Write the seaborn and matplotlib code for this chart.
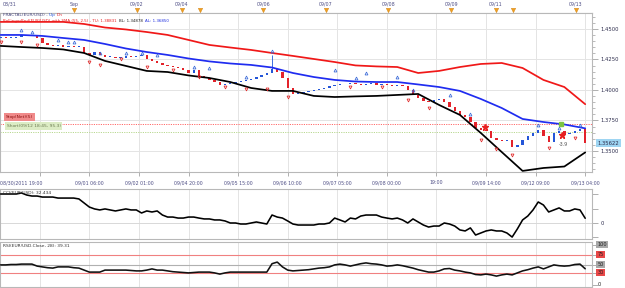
import numpy as np
import matplotlib
matplotlib.use("Agg")
import matplotlib.pyplot as plt
import seaborn as sns
from matplotlib.ticker import MultipleLocator, FixedLocator, NullFormatter

sns.set_style("white")
plt.rcParams["font.family"] = ["DejaVu Sans"]

# ---------------- data ----------------
open0 = 1.4426
closes = [1.4434, 1.4426, 1.4426, 1.4434, 1.4451, 1.4443, 1.4451, 1.4426, 1.4385, 1.4369,
          1.4361, 1.4365, 1.4352, 1.4361, 1.4352, 1.4356, 1.4302, 1.4287, 1.4311, 1.4287,
          1.4270, 1.4274, 1.4262, 1.4266, 1.4279, 1.4270, 1.4279, 1.4287, 1.4254, 1.4238,
          1.4221, 1.4205, 1.4197, 1.4188, 1.4180, 1.4164, 1.4140, 1.4160, 1.4115, 1.4098,
          1.4082, 1.4065, 1.4041, 1.4049, 1.4057, 1.4065, 1.4074, 1.4082, 1.4090, 1.4106,
          1.4123, 1.4139, 1.4172, 1.4147, 1.4098, 1.4016, 1.3967, 1.3975, 1.3984, 1.3992,
          1.4000, 1.4008, 1.4016, 1.4033, 1.4041, 1.4045, 1.4049, 1.4057, 1.4049, 1.4041,
          1.4049, 1.4053, 1.4041, 1.4049, 1.4041, 1.4033, 1.4041, 1.4033, 1.4000, 1.3959,
          1.3934, 1.3910, 1.3905, 1.3918, 1.3926, 1.3901, 1.3860, 1.3828, 1.3795, 1.3778,
          1.3737, 1.3688, 1.3672, 1.3664, 1.3606, 1.3590, 1.3582, 1.3586, 1.3533, 1.3549,
          1.3590, 1.3623, 1.3647, 1.3672, 1.3623, 1.3574, 1.3647, 1.3664, 1.3639, 1.3647,
          1.3664, 1.3680, 1.35622]
wick_idx = [52]
wick_high = [1.4287]
wick_low = [1.4147]

band_step = 4
upper_band = [1.4558, 1.4558, 1.4558, 1.4558, 1.4541, 1.4512, 1.4496, 1.4475, 1.4451, 1.4410,
              1.4369, 1.4348, 1.4328, 1.4303, 1.4279, 1.4254, 1.4229, 1.4201, 1.4193, 1.4188,
              1.4139, 1.4156, 1.4188, 1.4213, 1.4221, 1.4180, 1.4082, 1.4024, 1.38831]
middle_band = [1.4451, 1.4451, 1.4443, 1.4426, 1.4410, 1.4377, 1.4340, 1.4311, 1.4287, 1.4258,
               1.4234, 1.4217, 1.4205, 1.4184, 1.4139, 1.4106, 1.4082, 1.4069, 1.4065, 1.4065,
               1.4045, 1.4024, 1.3992, 1.3926, 1.3852, 1.3762, 1.3737, 1.3717, 1.36850]
lower_band = [1.4361, 1.4352, 1.4344, 1.4332, 1.4303, 1.4238, 1.4197, 1.4156, 1.4147, 1.4119,
              1.4098, 1.4065, 1.4016, 1.3992, 1.3992, 1.3951, 1.3942, 1.3947, 1.3951, 1.3959,
              1.3967, 1.3877, 1.3795, 1.3647, 1.3491, 1.3336, 1.3360, 1.3372, 1.34878]

cci = [200, 200, 200, 200, 207, 193, 186, 186, 179, 179,
       179, 172, 172, 172, 172, 166, 138, 110, 97, 90,
       97, 90, 83, 90, 97, 90, 90, 69, 83, 76,
       83, 55, 41, 41, 34, 34, 41, 41, 34, 28,
       28, 21, 21, 14, 0, 0, -7, -7, 0, 7,
       0, -7, 55, 41, 34, 14, -7, -14, -14, -14,
       -14, -7, -7, 0, 34, 21, 7, 34, 28, 48,
       55, 55, 55, 41, 34, 28, 34, 21, 0, 28,
       7, -14, -28, -21, -21, 0, -7, -21, -48, -55,
       -34, -83, -69, -55, -48, -55, -55, -69, -97, -41,
       21, 48, 90, 145, 124, 76, 90, 104, 83, 83,
       97, 90, 32.434]
rsi = [49, 49, 50, 50, 51, 51, 51, 46, 44, 42,
       41, 44, 44, 44, 42, 41, 36, 31, 31, 31,
       36, 36, 36, 36, 36, 35, 34, 34, 36, 39,
       36, 36, 34, 32, 31, 30, 29, 30, 31, 31,
       31, 29, 26, 29, 31, 31, 31, 31, 31, 31,
       31, 31, 52, 56, 44, 36, 34, 35, 36, 37,
       39, 41, 42, 44, 49, 51, 49, 46, 49, 52,
       54, 52, 51, 49, 46, 47, 49, 47, 44, 41,
       37, 34, 31, 31, 34, 39, 40, 36, 34, 31,
       29, 25, 24, 26, 24, 21, 24, 26, 24, 29,
       34, 37, 41, 44, 39, 44, 49, 47, 46, 47,
       50, 51, 39.31]

frac_up_idx = [4, 6, 11, 13, 14, 19, 24, 27, 30, 37, 40, 47, 52, 64, 68, 70, 76, 79, 86, 90, 103, 107, 111]
frac_up_val = [1.4492, 1.4475, 1.4410, 1.4393, 1.4393, 1.4303, 1.4303, 1.4303, 1.4287, 1.4188,
               1.4180, 1.4106, 1.4320, 1.4164, 1.4098, 1.4139, 1.4106, 1.4000, 1.3959, 1.3803,
               1.3713, 1.3688, 1.3713]
frac_dn_idx = [0, 4, 7, 17, 19, 23, 28, 33, 38, 43, 47, 51, 55, 67, 73, 78, 82, 92, 95, 98, 105, 110]
frac_dn_val = [1.4393, 1.4393, 1.4369, 1.4229, 1.4205, 1.4254, 1.4188, 1.4164, 1.4106, 1.4024,
               1.4008, 1.4008, 1.3943, 1.4024, 1.4024, 1.3918, 1.3852, 1.3590, 1.3516, 1.3467,
               1.3524, 1.3606]
sell_idx = [92.8, 107.5]
sell_val = [1.3697, 1.3631]
entry_idx = [107.4]
entry_val = [1.3721]
score_idx = 107.8
score_val = 1.3553
score_text = "-3.9"

stop_level = 1.3721
short_level = 1.3655
last_price = 1.35622

first_date_label = "08/30/2011 19:00"
date_labels = ["09/01 06:00", "09/02 01:00", "09/04 20:00", "09/05 15:00", "09/06 10:00",
               "09/07 05:00", "09/08 00:00", "19:00", "09/09 14:00", "09/12 09:00", "09/13 04:00"]
date_idx = [17, 26.5, 36, 45.5, 55, 64.5, 74, 83.5, 93, 102.5, 112]
grid_idx = [7.5] + date_idx
day_labels = ["08/31", "Sep", "09/02", "09/04", "09/06", "09/07", "09/08", "09/09", "09/11", "09/13"]
day_idx = [1.8, 14.1, 26.1, 34.7, 50.3, 62.3, 74.3, 86.3, 94.9, 110.2]
event_idx = [14.0, 26.1, 34.8, 38.2, 50.3, 62.3, 74.2, 86.3, 94.9, 98.2, 110.2]

price_ticks = [1.45, 1.425, 1.40, 1.375, 1.35]
cci_ticks = [-100, 0, 100, 200]
rsi_levels = [100, 75, 50, 30, 0]

# ---------------- layout ----------------
W, H = 625, 288
fig = plt.figure(figsize=(W / 100, H / 100), dpi=100)
fig.patch.set_facecolor("white")


def px_axes(x0, y0, x1, y1):
    return fig.add_axes([x0 / W, 1 - y1 / H, (x1 - x0) / W, (y1 - y0) / H])


ax_top = px_axes(0, 0, 592, 13)
ax_p = px_axes(0, 13, 592, 172)
ax_c = px_axes(0, 188.5, 592, 238.5)
ax_r = px_axes(0, 241.5, 592, 287)

XL = (-0.115, 113.3)
LAB = "#4f4f86"
TXT = "#2e2e4e"
GRID = "#e4e4e4"
FRAME = "#b8b8b8"
FS = 3.4

for ax in (ax_top, ax_p, ax_c, ax_r):
    ax.set_xlim(*XL)
    for s in ax.spines.values():
        s.set_color(FRAME)
        s.set_linewidth(0.8)
    ax.set_facecolor("white")

# ---------------- top date strip ----------------
ax_top.set_ylim(13, 0)
ax_top.set_yticks([])
ax_top.spines["left"].set_visible(False)
ax_top.spines["top"].set_visible(False)
ax_top.spines["right"].set_visible(False)
ax_top.xaxis.set_minor_locator(MultipleLocator(1.5))
ax_top.xaxis.set_major_locator(FixedLocator(day_idx))
ax_top.xaxis.set_major_formatter(NullFormatter())
ax_top.tick_params(axis="x", which="major", direction="in", length=3.5, color="#909090", width=0.5)
ax_top.tick_params(axis="x", which="minor", direction="in", length=1.8, color="#a0a0a0", width=0.5)
for lab, xi in zip(day_labels, day_idx):
    ax_top.text(xi, 4.5, lab, ha="center", va="center", fontsize=FS, color=LAB)
ax_top.plot(event_idx, [10] * len(event_idx), ls="none", marker="v", ms=3.2,
            color="#f0a020", mec="#d08010", mew=0.3, clip_on=False)

# ---------------- price panel ----------------
ax_p.set_ylim(1.3327, 1.4631)
for g in grid_idx:
    ax_p.axvline(g, color=GRID, lw=0.7, zorder=0)
for t in price_ticks:
    ax_p.axhline(t, color=GRID, lw=0.7, zorder=0)

idx = np.arange(len(closes))
opens = [open0] + closes[:-1]
lo = np.minimum(opens, closes)
hi = np.maximum(opens, closes)
body = np.maximum(hi - lo, 0.0006)
cols = ["#2456d8" if c >= o else "#e3232b" for o, c in zip(opens, closes)]
ax_p.vlines(wick_idx, wick_low, wick_high, color="#3b6fe0", lw=0.7, zorder=2)
ax_p.bar(idx, body, bottom=lo, width=0.45, color=cols, linewidth=0, zorder=3)

band_x = np.arange(0, len(closes), band_step)
sns.lineplot(x=band_x, y=upper_band, ax=ax_p, color="#f01818", lw=1.25, zorder=4)
sns.lineplot(x=band_x, y=middle_band, ax=ax_p, color="#1f2cf0", lw=1.25, zorder=4)
sns.lineplot(x=band_x, y=lower_band, ax=ax_p, color="#000000", lw=1.25, zorder=4)

ax_p.plot(frac_up_idx, frac_up_val, ls="none", marker="^", ms=2.1, mfc="none",
          mec="#3a6ad8", mew=0.55, zorder=5)
ax_p.plot(frac_dn_idx, frac_dn_val, ls="none", marker="v", ms=2.1, mfc="none",
          mec="#e02828", mew=0.55, zorder=5)

ax_p.axhline(stop_level, color="#ff6a6a", lw=0.7, ls=(0, (1.2, 1.2)), zorder=2)
ax_p.axhline(short_level, color="#b8d890", lw=0.7, ls=(0, (1.2, 1.2)), zorder=2)

ax_p.plot(sell_idx, sell_val, ls="none", marker="*", ms=4.5, color="#e82020", zorder=6)
ax_p.plot(entry_idx, entry_val, ls="none", marker="s", ms=3.2, color="#7cc444", zorder=6)
ax_p.text(score_idx, score_val, score_text, fontsize=FS, color="#505050", ha="center", va="center", zorder=6)

ax_p.text(1.0, 1.3778, "Stop(Net)(5)", fontsize=3.2, color="#8a1010", va="center", ha="left",
          bbox=dict(boxstyle="square,pad=0.35", fc="#f08a8a", ec="none"), zorder=7)
ax_p.text(1.2, 1.3704, "Short(09/12 18:45, 95.3)", fontsize=3.2, color="#6a7a50", va="center", ha="left",
          bbox=dict(boxstyle="square,pad=0.35", fc="#dcecc4", ec="none"), zorder=7)


def seg_text(ax, x, y, parts, size):
    t = ax.text(x, y, parts[0][0], color=parts[0][1], fontsize=size,
                transform=ax.transAxes, va="center", ha="left", zorder=8)
    for s, c in parts[1:]:
        t = ax.annotate(s, xycoords=t, xy=(1, 0.5), va="center", ha="left",
                        color=c, fontsize=size, zorder=8)
    return t


seg_text(ax_p, 0.005, 0.985, [("FRACTAL(EUR/USD) - ", "#4a4a80"), ("Up ", "#2456d8"), ("Dn", "#e3232b")], 3.2)
seg_text(ax_p, 0.005, 0.948, [("BollingerBnd(EUR/USD) with SMA (55, 2.5) - TU: 1.38831  ", "#e82020"),
                              ("BL: 1.34878  ", "#202020"), ("AL: 1.36850", "#2030e0")], 2.9)

ax_p.yaxis.tick_right()
ax_p.yaxis.set_major_locator(FixedLocator(price_ticks))
ax_p.yaxis.set_minor_locator(MultipleLocator(0.005))
ax_p.set_yticklabels([f"{t:.4f}" for t in price_ticks])
ax_p.tick_params(axis="y", which="major", length=4, width=0.5, color="#909090", pad=2,
                 labelsize=3.8, labelcolor=TXT, right=True)
ax_p.tick_params(axis="y", which="minor", length=2, width=0.5, color="#a0a0a0", right=True)
ax_p.text(1.0095, last_price, f"{last_price:.5f}", transform=ax_p.get_yaxis_transform(),
          fontsize=3.8, color=TXT, va="center", ha="left",
          bbox=dict(boxstyle="square,pad=0.3", fc="#9ed5f2", ec="none"), zorder=9, clip_on=False)

ax_p.xaxis.set_major_locator(FixedLocator(grid_idx))
ax_p.xaxis.set_major_formatter(NullFormatter())
ax_p.tick_params(axis="x", which="major", length=3, width=0.5, color="#909090", bottom=True)
ax_p.text(0.0, -0.069, first_date_label, transform=ax_p.transAxes, fontsize=FS, color=LAB,
          ha="left", va="center")
for lab, xi in zip(date_labels, date_idx):
    ax_p.text(xi, -0.069, lab, transform=ax_p.get_xaxis_transform(), fontsize=FS, color=LAB,
              ha="center", va="center", clip_on=False)
ax_p.set_xlabel("")
ax_p.set_ylabel("")

# ---------------- CCI panel ----------------
ax_c.set_ylim(-107, 238)
for g in grid_idx:
    ax_c.axvline(g, color=GRID, lw=0.7, zorder=0)
ax_c.axhline(0, color="#d8d8d8", lw=0.7, zorder=0)
sns.lineplot(x=idx, y=cci, ax=ax_c, color="black", lw=1.15, zorder=3)
ax_c.yaxis.tick_right()
ax_c.yaxis.set_major_locator(FixedLocator(cci_ticks))
ax_c.set_yticklabels(["" if t != 0 else "0" for t in cci_ticks])
ax_c.tick_params(axis="y", length=4, width=0.5, color="#909090", pad=2, labelsize=3.8,
                 labelcolor=TXT, right=True)
ax_c.set_xticks([])
ax_c.text(0.005, 0.91, "CCI(EUR/USD): 32.434", transform=ax_c.transAxes, fontsize=3.2,
          color="#303030", va="center", ha="left")
ax_c.set_xlabel("")
ax_c.set_ylabel("")

# ---------------- RSI panel ----------------
ax_r.set_ylim(-6.25, 107.5)
for g in grid_idx:
    ax_r.axvline(g, color=GRID, lw=0.7, zorder=0)
ax_r.axhline(75, color="#f08080", lw=0.8, zorder=1)
ax_r.axhline(30, color="#f08080", lw=0.8, zorder=1)
ax_r.axhline(50, color="#b0b0b0", lw=0.8, zorder=1)
sns.lineplot(x=idx, y=rsi, ax=ax_r, color="#111111", lw=1.15, zorder=3)
ax_r.yaxis.tick_right()
ax_r.yaxis.set_major_locator(FixedLocator(rsi_levels))
ax_r.yaxis.set_major_formatter(NullFormatter())
ax_r.tick_params(axis="y", length=4, width=0.5, color="#909090", right=True)
ax_r.set_xticks([])
box_col = {100: "#a8a8a8", 75: "#e84848", 50: "#a8a8a8", 30: "#e84848", 0: None}
for lv in rsi_levels:
    fc = box_col[lv]
    kw = dict(bbox=dict(boxstyle="square,pad=0.25", fc=fc, ec="none")) if fc else {}
    ax_r.text(1.0095, lv, str(lv), transform=ax_r.get_yaxis_transform(), fontsize=3.6,
              color="#202020", va="center", ha="left", clip_on=False, **kw)
ax_r.text(0.005, 0.90, "RSI(EUR/USD.Close, 28): 39.31", transform=ax_r.transAxes, fontsize=3.2,
          color="#303030", va="center", ha="left")
ax_r.set_xlabel("")
ax_r.set_ylabel("")

fig.savefig("out.png", dpi=100, facecolor="white")
